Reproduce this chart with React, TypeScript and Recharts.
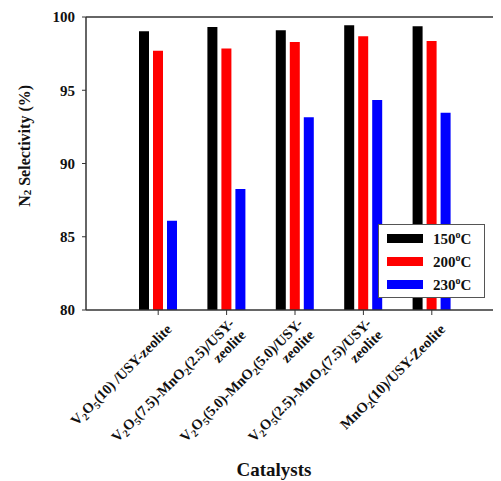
import React from "react";
import { BarChart, Bar, XAxis, YAxis, Legend, ReferenceLine, Label } from "recharts";

const categories = [
  "V_2O_5(10) /USY-zeolite",
  "V_2O_5(7.5)-MnO_2(2.5)/USY-\nzeolite",
  "V_2O_5(5.0)-MnO_2(5.0)/USY-\nzeolite",
  "V_2O_5(2.5)-MnO_2(7.5)/USY-\nzeolite",
  "MnO_2(10)/USY-Zeolite",
];
const s150 = [99.03, 99.32, 99.1, 99.44, 99.37];
const s200 = [97.7, 97.85, 98.3, 98.69, 98.37];
const s230 = [86.1, 88.26, 93.16, 94.33, 93.47];
const yTicks = [80, 85, 90, 95, 100];
const seriesNames = ["150", "200", "230"];
const seriesColors = ["#000000", "#ff0000", "#0000ff"];

const data = categories.map((c, i) => ({ cat: c, t150: s150[i], t200: s200[i], t230: s230[i] }));

const FONT = "'Liberation Serif', 'Times New Roman', serif";

function renderSegments(line: string, fs: number) {
  const parts = line.split(/_(\d)/);
  const out: any[] = [];
  parts.forEach((p, idx) => {
    if (idx % 2 === 1) {
      out.push(
        <tspan key={idx} baselineShift="-25%" fontSize={fs * 0.7}>
          {p}
        </tspan>
      );
    } else if (p) {
      out.push(<tspan key={idx}>{p}</tspan>);
    }
  });
  return out;
}

const CatTick = (props: any) => {
  const { x, y, payload } = props;
  const lines: string[] = String(payload.value).split("\n");
  const n = lines.length;
  return (
    <g transform={`translate(${x + 3},${y + 4})`}>
      {lines.map((ln, i) => (
        <text
          key={i}
          x={0}
          y={16 + (i - (n - 1) / 2) * 16}
          transform="rotate(-45)"
          textAnchor="end"
          fontFamily={FONT}
          fontWeight="bold"
          fontSize={14.5}
          fill="#111"
        >
          {renderSegments(ln, 14.5)}
        </text>
      ))}
    </g>
  );
};

const LegendBox = () => (
  <div
    style={{
      border: "1px solid #555",
      background: "#fff",
      width: 107,
      height: 74,
      boxSizing: "border-box",
      padding: "2px 0 0 8px",
      fontFamily: FONT,
      fontWeight: "bold",
      fontSize: 15,
    }}
  >
    {seriesNames.map((n, i) => (
      <div key={n} style={{ display: "flex", alignItems: "center", height: 23 }}>
        <div style={{ width: 36, height: 9, background: seriesColors[i], marginRight: 10 }} />
        <span style={{ color: "#111" }}>
          {n}
          <sup style={{ fontSize: 10 }}>o</sup>C
        </span>
      </div>
    ))}
  </div>
);

const YLabel = (props: any) => {
  const vb = props.viewBox || {};
  const cx = 16;
  const cy = (vb.y ?? 9) + (vb.height ?? 293) * 0.44;
  return (
    <text
      x={cx}
      y={cy}
      transform={`rotate(-90, ${cx}, ${cy})`}
      textAnchor="middle"
      dominantBaseline="central"
      fontFamily={FONT}
      fontWeight="bold"
      fontSize={16}
      fill="#111"
    >
      <tspan>N</tspan>
      <tspan baselineShift="-25%" fontSize={11}>2</tspan>
      <tspan> Selectivity (%)</tspan>
    </text>
  );
};

const XLabel = () => (
  <text x={266} y={468} textAnchor="middle" fontFamily={FONT} fontWeight="bold" fontSize={19} fill="#111">
    Catalysts
  </text>
);

export default function App() {
  return (
    <div style={{ width: 493, height: 473 }}>
      <BarChart
        width={493}
        height={473}
        data={data}
        margin={{ top: 9, right: 0, bottom: 0, left: 0 }}
        barSize={10}
        barGap={4}
      >
        <XAxis
          dataKey="cat"
          height={171}
          interval={0}
          padding={{ left: 38, right: 35 }}
          tick={<CatTick />}
          tickSize={5}
          tickMargin={0}
          axisLine={{ stroke: "#333", strokeWidth: 1.5 }}
          tickLine={{ stroke: "#333" }}
        >
          <Label content={<XLabel />} />
        </XAxis>
        <YAxis
          width={78}
          domain={[80, 100]}
          ticks={yTicks}
          interval={0}
          allowDataOverflow
          tickSize={4}
          tickMargin={7}
          axisLine={{ stroke: "#333", strokeWidth: 1.5 }}
          tickLine={{ stroke: "#333" }}
          tick={{ fontFamily: FONT, fontWeight: "bold", fontSize: 15, fill: "#111" }}
        >
          <Label content={<YLabel />} />
        </YAxis>
        <ReferenceLine y={100} stroke="#333" strokeWidth={1.5} />
        <Bar dataKey="t150" name="150" fill={seriesColors[0]} isAnimationActive={false} />
        <Bar dataKey="t200" name="200" fill={seriesColors[1]} isAnimationActive={false} />
        <Bar dataKey="t230" name="230" fill={seriesColors[2]} isAnimationActive={false} />
        <Legend
          layout="vertical"
          align="center"
          verticalAlign="middle"
          content={<LegendBox />}
          wrapperStyle={{ position: "absolute", left: 370, top: 216, width: 108, height: 74 }}
        />
      </BarChart>
    </div>
  );
}
